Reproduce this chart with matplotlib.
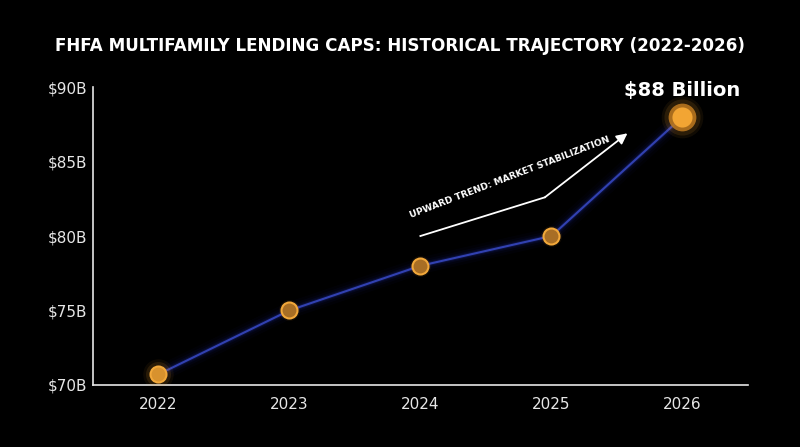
#!/usr/bin/env python3
"""FHFA multifamily lending caps, 2022-2026, dark glow line chart."""

import matplotlib
matplotlib.use("Agg")
import matplotlib.pyplot as plt

years = [2022, 2023, 2024, 2025, 2026]
caps = [70.7, 75.0, 78.0, 80.0, 88.0]
y_ticks = [70, 75, 80, 85, 90]
y_labels = ["$70B", "$75B", "$80B", "$85B", "$90B"]

# trend arrow path (data coords)
arrow_x = [2024.0, 2024.95, 2025.58]
arrow_y = [80.0, 82.6, 86.9]

plt.rcParams["font.family"] = ["DejaVu Sans"]

fig = plt.figure(figsize=(8, 4.47), dpi=100, facecolor="black")
ax = fig.add_axes([0.116, 0.139, 0.819, 0.666], facecolor="black")

# glow under the line
for lw, a in [(12, 0.04), (8, 0.06), (5, 0.1), (3, 0.2)]:
    ax.plot(years, caps, color="#2030a8", lw=lw, alpha=a, solid_capstyle="round", zorder=2)
ax.plot(years, caps, color="#3444b8", lw=1.5, alpha=0.95, zorder=3)

# marker glow, stronger at both ends
last = len(years) - 1
for i, (x, y) in enumerate(zip(years, caps)):
    if i == last:
        for ms, a in [(30, 0.07), (26, 0.12)]:
            ax.plot(x, y, "o", ms=ms, color="#f0a030", alpha=a, mec="none", zorder=4)
        ax.plot(x, y, "o", ms=20, color="#b8761f", alpha=0.9, mec="none", zorder=5)
        ax.plot(x, y, "o", ms=14.5, mfc="#f2a533", mec="none", zorder=6)
        continue
    if i == 0:
        for ms, a in [(22, 0.06), (18, 0.12)]:
            ax.plot(x, y, "o", ms=ms, color="#f0a030", alpha=a, mec="none", zorder=4)
        fill = "#d8922e"
    else:
        ax.plot(x, y, "o", ms=15, color="#f0a030", alpha=0.08, mec="none", zorder=4)
        fill = "#a86e25"
    ax.plot(x, y, "o", ms=11.5, mfc=fill, mec="#f2a83a", mew=1.5, zorder=5)

ax.set_xlim(2021.5, 2026.5)
ax.set_ylim(70, 90)
ax.set_xticks(years)
ax.set_yticks(y_ticks)
ax.set_yticklabels(y_labels)
ax.tick_params(colors="#e6e6e6", labelsize=11, length=0)
ax.tick_params(axis="x", pad=9)
ax.tick_params(axis="y", pad=4)

for side in ["top", "right"]:
    ax.spines[side].set_visible(False)
for side in ["left", "bottom"]:
    ax.spines[side].set_color("#e6e6e6")
    ax.spines[side].set_linewidth(1.2)

# trend annotation
ax.plot(arrow_x[:2], arrow_y[:2], color="white", lw=1.3, zorder=6)
ax.annotate("", xy=(arrow_x[2], arrow_y[2]), xytext=(arrow_x[1], arrow_y[1]),
            arrowprops=dict(arrowstyle="-|>", color="white", lw=1.3,
                            mutation_scale=16, shrinkA=0, shrinkB=0), zorder=6)
ax.text(2024.68, 83.95, "UPWARD TREND: MARKET STABILIZATION", color="white",
        fontsize=6.6, fontweight="bold", rotation=21, ha="center", va="center",
        rotation_mode="anchor")

ax.text(years[-1], 89.8, "$88 Billion", color="white", fontsize=14,
        fontweight="bold", ha="center", va="center")

fig.text(0.5, 0.898, "FHFA MULTIFAMILY LENDING CAPS: HISTORICAL TRAJECTORY (2022-2026)",
         color="white", fontsize=12.1, fontweight="bold", ha="center", va="center")

fig.savefig("out.png", dpi=100, facecolor="black")
